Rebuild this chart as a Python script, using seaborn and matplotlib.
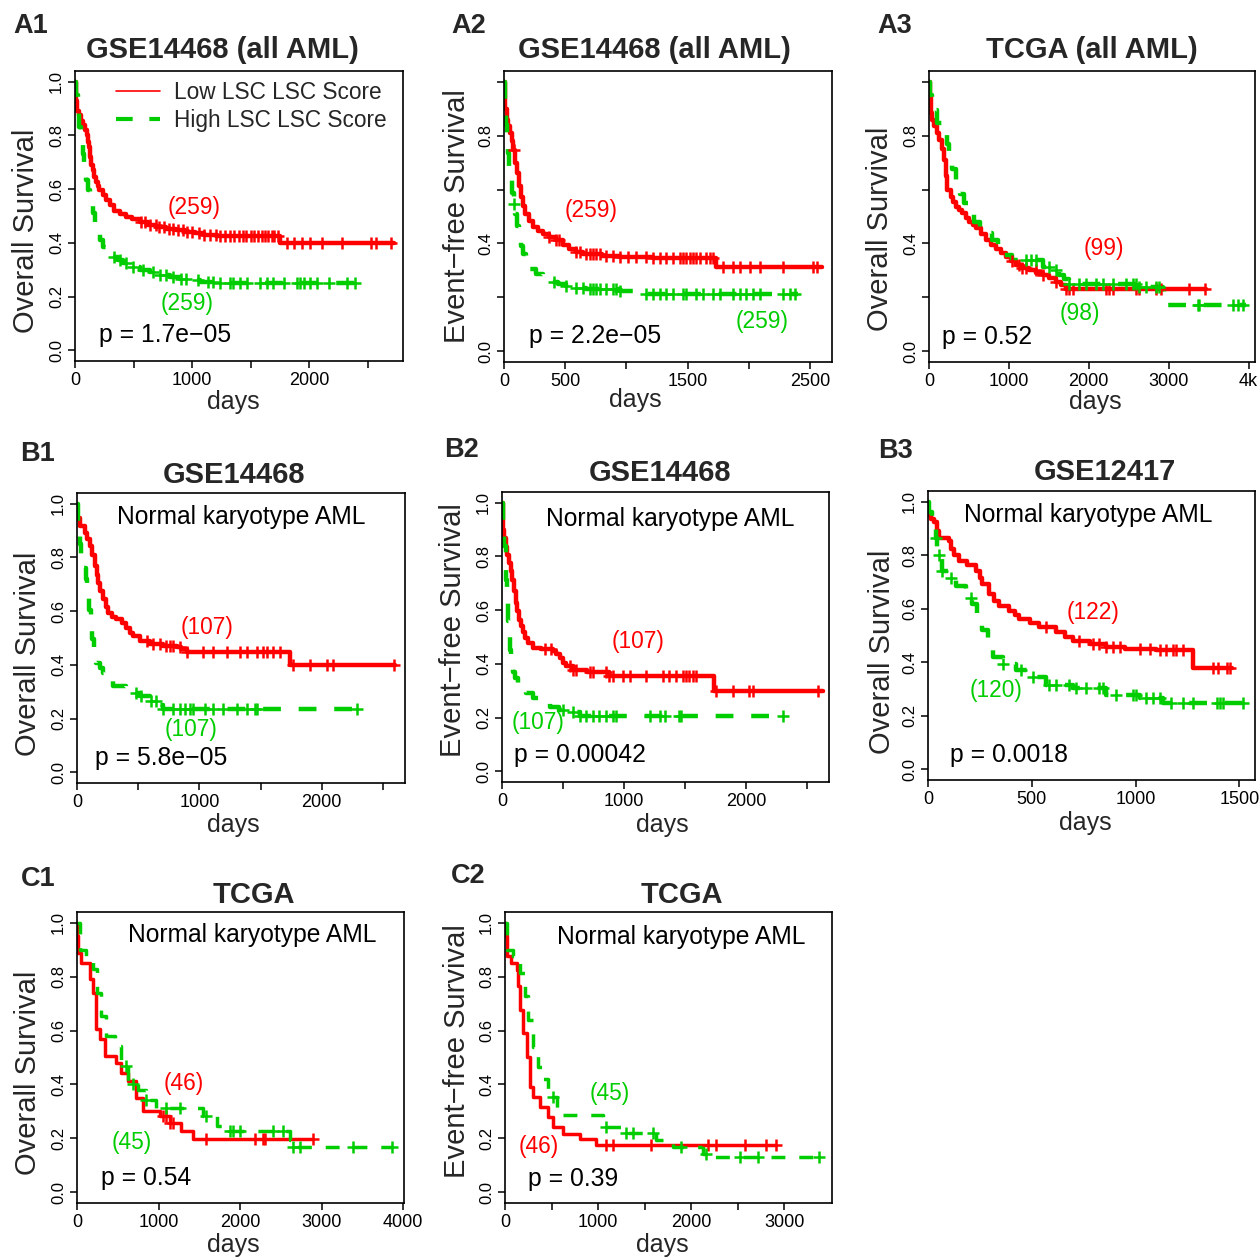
import numpy as np
import pandas as pd
import seaborn as sns
import matplotlib
matplotlib.use("Agg")
from matplotlib import pyplot as plt
from matplotlib.lines import Line2D

# ---- Kaplan-Meier curves: days / survival / censor days ----
a1_low_t = [0, 5, 14, 30, 51, 70, 89, 100, 110, 117, 130, 140, 151, 165, 180, 195, 209, 235, 266, 300,
            337, 385, 437, 490, 551, 620, 694, 780, 866, 940, 1023, 1100, 1209, 1751, 2723]
a1_low_s = [1.0, 0.93, 0.89, 0.875, 0.855, 0.84, 0.82, 0.80, 0.775, 0.756, 0.72, 0.69, 0.67, 0.645, 0.627,
            0.61, 0.596, 0.577, 0.559, 0.54, 0.52, 0.507, 0.497, 0.487, 0.478, 0.468, 0.46, 0.453, 0.447,
            0.441, 0.435, 0.43, 0.426, 0.40, 0.40]
a1_low_c = [560, 600, 640, 690, 720, 760, 800, 840, 880, 920, 960, 1000, 1060, 1100, 1150, 1200, 1240, 1280,
            1320, 1360, 1400, 1430, 1460, 1500, 1530, 1560, 1600, 1620, 1650, 1680, 1700, 1730, 1809, 1866,
            1937, 2009, 2109, 2280, 2523, 2566, 2694]
a1_high_t = [0, 8, 23, 37, 51, 65, 80, 95, 109, 130, 151, 172, 194, 215, 237, 280, 323, 365, 409, 480, 551,
             640, 723, 810, 894, 980, 1066, 1200, 1351, 2409]
a1_high_s = [1.0, 0.95, 0.89, 0.83, 0.78, 0.73, 0.68, 0.635, 0.596, 0.55, 0.51, 0.47, 0.435, 0.41, 0.386,
             0.365, 0.349, 0.335, 0.324, 0.31, 0.30, 0.29, 0.28, 0.272, 0.265, 0.26, 0.256, 0.252, 0.25, 0.25]
a1_high_c = [337, 380, 437, 494, 580, 666, 723, 780, 837, 909, 951, 1051, 1137, 1180, 1237, 1323, 1351, 1409,
             1466, 1580, 1637, 1694, 1780, 1894, 1923, 1951, 2009, 2066, 2166, 2323, 2394]

a2_low_t = [0, 5, 12, 22, 35, 49, 62, 76, 90, 104, 120, 139, 157, 175, 205, 235, 275, 317, 370, 426, 480,
            535, 590, 644, 800, 944, 1217, 1736, 2596]
a2_low_s = [1.0, 0.947, 0.90, 0.86, 0.835, 0.81, 0.78, 0.748, 0.70, 0.66, 0.615, 0.573, 0.54, 0.511, 0.485,
            0.461, 0.448, 0.436, 0.424, 0.411, 0.395, 0.38, 0.37, 0.361, 0.355, 0.351, 0.345, 0.311, 0.311]
a2_low_c = [85, 371, 426, 453, 590, 617, 671, 699, 726, 753, 781, 835, 890, 944, 1013, 1081, 1163, 1217, 1272,
            1326, 1381, 1436, 1463, 1490, 1517, 1545, 1572, 1599, 1654, 1681, 1709, 1790, 1872, 1927, 2009,
            2091, 2282, 2527, 2555]
a2_high_t = [0, 5, 11, 16, 22, 30, 38, 52, 66, 80, 93, 107, 120, 137, 153, 180, 207, 262, 320, 371, 440,
             508, 590, 671, 944, 1081, 2404]
a2_high_s = [1.0, 0.95, 0.897, 0.84, 0.785, 0.735, 0.685, 0.635, 0.586, 0.545, 0.511, 0.465, 0.424, 0.39,
             0.361, 0.33, 0.305, 0.287, 0.27, 0.258, 0.25, 0.243, 0.236, 0.23, 0.222, 0.212, 0.212]
a2_high_c = [85, 412, 508, 590, 644, 699, 726, 753, 781, 835, 890, 917, 944, 1163, 1217, 1272, 1326, 1381,
             1463, 1490, 1572, 1627, 1709, 1763, 1872, 1927, 1981, 2036, 2091, 2282, 2336, 2377]

a3_low_t = [0, 8, 21, 42, 63, 94, 125, 157, 188, 210, 230, 272, 300, 334, 375, 418, 460, 501, 545, 585, 650,
            710, 770, 836, 900, 961, 1020, 1087, 1170, 1254, 1340, 1421, 1500, 1588, 1650, 1713, 3468]
a3_low_s = [1.0, 0.947, 0.884, 0.86, 0.835, 0.81, 0.785, 0.75, 0.711, 0.65, 0.599, 0.574, 0.555, 0.537,
            0.525, 0.512, 0.495, 0.481, 0.468, 0.456, 0.435, 0.412, 0.395, 0.381, 0.365, 0.35, 0.335, 0.319,
            0.31, 0.301, 0.292, 0.282, 0.27, 0.257, 0.245, 0.232, 0.232]
a3_low_c = [1045, 1128, 1170, 1212, 1337, 1421, 1588, 1713, 1755, 1797, 2215, 2257, 2298, 2591, 2633, 2842,
            2904, 3259, 3448]
a3_high_t = [0, 15, 42, 104, 188, 220, 251, 290, 334, 385, 439, 500, 564, 640, 710, 794, 860, 919, 1045, 1421,
             1520, 1630, 1690, 1755, 2633, 2925, 2946, 3970]
a3_high_s = [1.0, 0.95, 0.897, 0.847, 0.81, 0.77, 0.723, 0.675, 0.624, 0.585, 0.549, 0.515, 0.481, 0.46,
             0.437, 0.412, 0.385, 0.357, 0.338, 0.313, 0.30, 0.282, 0.268, 0.251, 0.239, 0.232, 0.17, 0.17]
a3_high_c = [1212, 1275, 1337, 1504, 1588, 1755, 1880, 1964, 2089, 2173, 2298, 2466, 2549, 2591, 2633, 2716,
             2842, 2883, 3364, 3385, 3803, 3865, 3928]

b1_low_t = [0, 3, 22, 63, 85, 104, 125, 145, 160, 172, 190, 213, 235, 254, 290, 322, 365, 404, 430, 458, 513,
            595, 700, 813, 850, 895, 1741, 2600]
b1_low_s = [1.0, 0.947, 0.916, 0.891, 0.87, 0.842, 0.81, 0.767, 0.735, 0.705, 0.675, 0.644, 0.615, 0.594,
            0.58, 0.569, 0.555, 0.538, 0.52, 0.507, 0.489, 0.476, 0.472, 0.468, 0.458, 0.448, 0.398, 0.398]
b1_low_c = [568, 622, 677, 731, 759, 786, 840, 895, 1031, 1113, 1222, 1332, 1386, 1468, 1523, 1550, 1604,
            1659, 1768, 1905, 2041, 2095, 2587]
b1_high_t = [0, 11, 25, 35, 55, 71, 85, 98, 112, 126, 142, 158, 185, 213, 255, 295, 404, 460, 513, 595, 650,
             704, 2300]
b1_high_s = [1.0, 0.903, 0.85, 0.804, 0.76, 0.718, 0.66, 0.606, 0.55, 0.495, 0.45, 0.408, 0.39, 0.371,
             0.345, 0.322, 0.309, 0.297, 0.285, 0.266, 0.25, 0.235, 0.235]
b1_high_c = [486, 527, 608, 649, 704, 786, 840, 881, 922, 950, 1045, 1113, 1195, 1304, 1386, 1454, 1468, 2287]

b2_low_t = [0, 8, 18, 30, 44, 57, 70, 85, 98, 112, 125, 139, 155, 172, 192, 213, 254, 320, 417, 445, 472, 500,
            527, 581, 700, 881, 1741, 2628]
b2_low_s = [1.0, 0.899, 0.87, 0.837, 0.805, 0.775, 0.745, 0.714, 0.67, 0.627, 0.595, 0.565, 0.54, 0.519,
            0.497, 0.479, 0.46, 0.455, 0.448, 0.435, 0.42, 0.405, 0.393, 0.377, 0.37, 0.356, 0.30, 0.30]
b2_low_c = [349, 404, 554, 581, 608, 718, 745, 854, 881, 909, 990, 1045, 1181, 1318, 1372, 1427, 1482, 1509,
            1536, 1564, 1591, 1754, 1891, 2027, 2055, 2587]
b2_high_t = [0, 5, 15, 30, 41, 50, 57, 66, 76, 90, 104, 130, 158, 200, 254, 320, 390, 470, 554, 636, 2314]
b2_high_s = [1.0, 0.92, 0.84, 0.714, 0.627, 0.56, 0.504, 0.45, 0.405, 0.37, 0.346, 0.325, 0.306, 0.29,
             0.272, 0.255, 0.238, 0.23, 0.222, 0.205, 0.205]
b2_high_c = [499, 581, 636, 690, 745, 799, 854, 909, 936, 1209, 1291, 1332, 1454, 1468, 2300]

b3_low_t = [0, 2, 15, 29, 45, 53, 101, 113, 126, 150, 190, 230, 250, 262, 295, 320, 343, 391, 420, 440, 490,
            536, 617, 660, 697, 778, 858, 950, 1100, 1275, 1462]
b3_low_s = [1.0, 0.951, 0.935, 0.926, 0.89, 0.864, 0.852, 0.825, 0.80, 0.778, 0.765, 0.741, 0.715, 0.691,
            0.654, 0.63, 0.61, 0.593, 0.575, 0.56, 0.545, 0.53, 0.512, 0.495, 0.481, 0.469, 0.457, 0.45,
            0.444, 0.377, 0.377]
b3_low_c = [568, 729, 794, 826, 858, 890, 923, 1019, 1068, 1116, 1148, 1180, 1196, 1229, 1374, 1398, 1438, 1454]
b3_high_t = [0, 5, 21, 37, 45, 69, 101, 134, 182, 214, 238, 262, 287, 311, 359, 424, 488, 568, 697, 858, 1019,
             1132, 1519]
b3_high_s = [1.0, 0.963, 0.914, 0.864, 0.80, 0.741, 0.716, 0.685, 0.642, 0.617, 0.568, 0.519, 0.469, 0.42,
             0.395, 0.37, 0.346, 0.315, 0.302, 0.278, 0.265, 0.249, 0.249]
b3_high_c = [37, 53, 69, 110, 206, 359, 448, 504, 585, 617, 681, 713, 762, 826, 842, 907, 987, 1003, 1052,
             1084, 1116, 1172, 1229, 1277, 1390, 1406, 1422, 1519]

c1_low_t = [0, 5, 12, 53, 155, 196, 237, 278, 340, 483, 544, 626, 729, 810, 1015, 1138, 1281, 1424, 2898]
c1_low_s = [1.0, 0.95, 0.889, 0.851, 0.79, 0.74, 0.604, 0.567, 0.505, 0.48, 0.443, 0.412, 0.35, 0.30, 0.282,
            0.257, 0.226, 0.198, 0.198]
c1_low_c = [1056, 1097, 1138, 1179, 1588, 2182, 2284, 2305, 2898]
c1_high_t = [0, 33, 115, 196, 246, 299, 360, 463, 544, 626, 749, 851, 974, 1547, 1711, 1834, 2612, 2652, 3880]
c1_high_s = [1.0, 0.90, 0.876, 0.827, 0.74, 0.653, 0.579, 0.542, 0.468, 0.40, 0.381, 0.344, 0.313, 0.282,
             0.245, 0.226, 0.195, 0.168, 0.168]
c1_high_c = [606, 688, 851, 1097, 1261, 1588, 1875, 1916, 1998, 2407, 2530, 2652, 2734, 3389, 3860]

c2_low_t = [0, 11, 25, 61, 125, 143, 161, 196, 232, 268, 304, 375, 464, 518, 625, 804, 982, 2904]
c2_low_s = [1.0, 0.95, 0.876, 0.851, 0.826, 0.764, 0.677, 0.59, 0.503, 0.391, 0.354, 0.317, 0.28, 0.242,
            0.217, 0.199, 0.174, 0.174]
c2_low_c = [1089, 1161, 1571, 2179, 2268, 2571, 2804, 2904]
c2_high_t = [0, 25, 89, 161, 214, 250, 304, 357, 411, 464, 554, 1054, 1250, 1625, 1804, 2125, 2196, 3393]
c2_high_s = [1.0, 0.90, 0.876, 0.814, 0.727, 0.64, 0.54, 0.466, 0.422, 0.354, 0.286, 0.242, 0.22, 0.193,
             0.168, 0.143, 0.13, 0.13]
c2_high_c = [518, 1089, 1304, 1375, 1589, 1893, 2161, 2518, 2714, 3375]

# ---- panel text ----
panel_ids = ["A1", "A2", "A3", "B1", "B2", "B3", "C1", "C2"]
titles = ["GSE14468 (all AML)", "GSE14468 (all AML)", "TCGA (all AML)", "GSE14468", "GSE14468",
          "GSE12417", "TCGA", "TCGA"]
ylabels = ["Overall Survival", "Event\u2212free Survival", "Overall Survival", "Overall Survival",
           "Event\u2212free Survival", "Overall Survival", "Overall Survival", "Event\u2212free Survival"]
low_n = ["(259)", "(259)", "(99)", "(107)", "(107)", "(122)", "(46)", "(46)"]
high_n = ["(259)", "(259)", "(98)", "(107)", "(107)", "(120)", "(45)", "(45)"]
pvals = ["p = 1.7e\u221205", "p = 2.2e\u221205", "p = 0.52", "p = 5.8e\u221205", "p = 0.00042",
         "p = 0.0018", "p = 0.54", "p = 0.39"]
subtitle = [None, None, None, "Normal karyotype AML", "Normal karyotype AML", "Normal karyotype AML",
            "Normal karyotype AML", "Normal karyotype AML"]
legend_labels = ["Low LSC LSC Score", "High LSC LSC Score"]

RED = "#FF0000"
GREEN = "#00CD00"
W, H = 1259, 1258

panels = [
    dict(low=(a1_low_t, a1_low_s, a1_low_c), high=(a1_high_t, a1_high_s, a1_high_c),
         box=(75, 71, 403, 361), xmax=2800, xt=range(0, 2501, 500), xl={0: "0", 1000: "1000", 2000: "2000"},
         yl=None, lab=(31, 26), tit=(222, 50), xlab=(233, 402), ylab=(26, 231),
         lowpos=(1017, 0.53), highpos=(957, 0.174), ppos=(769, 0.056), sub=None, lw=3.2),
    dict(low=(a2_low_t, a2_low_s, a2_low_c), high=(a2_high_t, a2_high_s, a2_high_c),
         box=(504, 71, 832, 362), xmax=2680, xt=range(0, 2501, 500),
         xl={0: "0", 500: "500", 1500: "1500", 2500: "2500"}, yl=[0.0, 0.4, 0.8],
         lab=(469, 26), tit=(654, 50), xlab=(635, 400), ylab=(457, 216),
         lowpos=(712, 0.523), highpos=(2110, 0.112), ppos=(740, 0.056), sub=None, lw=3.2),
    dict(low=(a3_low_t, a3_low_s, a3_low_c), high=(a3_high_t, a3_high_s, a3_high_c),
         box=(929, 71, 1255, 362), xmax=4080, xt=range(0, 4001, 1000),
         xl={0: "0", 1000: "1000", 2000: "2000", 3000: "3000", 4000: "4k"}, yl=[0.0, 0.4, 0.8],
         lab=(895, 26), tit=(1092, 50), xlab=(1095, 402), ylab=(880, 229),
         lowpos=(2194, 0.381), highpos=(1889, 0.139), ppos=(731, 0.052), sub=None, lw=3.2),
    dict(low=(b1_low_t, b1_low_s, b1_low_c), high=(b1_high_t, b1_high_s, b1_high_c),
         box=(77, 493, 405, 783), xmax=2680, xt=range(0, 2501, 500), xl={0: "0", 1000: "1000", 2000: "2000"},
         yl=None, lab=(37, 454), tit=(234, 475), xlab=(233, 825), ylab=(28, 654),
         lowpos=(1064, 0.538), highpos=(930, 0.161), ppos=(690, 0.052), sub=(1340, 0.95), lw=3.2),
    dict(low=(b2_low_t, b2_low_s, b2_low_c), high=(b2_high_t, b2_high_s, b2_high_c),
         box=(502, 492, 829, 782), xmax=2680, xt=range(0, 2501, 500), xl={0: "0", 1000: "1000", 2000: "2000"},
         yl=None, lab=(462, 450), tit=(660, 473), xlab=(662, 825), ylab=(453, 630),
         lowpos=(1113, 0.485), highpos=(295, 0.183), ppos=(641, 0.059), sub=(1378, 0.938), lw=3.2),
    dict(low=(b3_low_t, b3_low_s, b3_low_c), high=(b3_high_t, b3_high_s, b3_high_c),
         box=(928, 491, 1255, 780), xmax=1575, xt=range(0, 1501, 500),
         xl={0: "0", 500: "500", 1000: "1000", 1500: "1500"}, yl=None,
         lab=(896, 451), tit=(1105, 472), xlab=(1085, 823), ylab=(882, 652),
         lowpos=(794, 0.586), highpos=(327, 0.294), ppos=(391, 0.052), sub=(770, 0.951), lw=3.2),
    dict(low=(c1_low_t, c1_low_s, c1_low_c), high=(c1_high_t, c1_high_s, c1_high_c),
         box=(77, 912, 404, 1203), xmax=4010, xt=range(0, 4001, 1000),
         xl={0: "0", 1000: "1000", 2000: "2000", 3000: "3000", 4000: "4000"}, yl=None,
         lab=(38, 879), tit=(254, 895), xlab=(233, 1245), ylab=(28, 1073),
         lowpos=(1310, 0.403), highpos=(667, 0.186), ppos=(851, 0.053), sub=(2153, 0.953), lw=2.5),
    dict(low=(c2_low_t, c2_low_s, c2_low_c), high=(c2_high_t, c2_high_s, c2_high_c),
         box=(505, 912, 832, 1203), xmax=3510, xt=range(0, 3001, 500),
         xl={0: "0", 1000: "1000", 2000: "2000", 3000: "3000"}, yl=None,
         lab=(468, 876), tit=(682, 895), xlab=(662, 1245), ylab=(457, 1051),
         lowpos=(357, 0.17), highpos=(1125, 0.366), ppos=(732, 0.05), sub=(1893, 0.948), lw=2.5),
]

sns.set_style("ticks")
plt.rcParams["font.family"] = ["Liberation Sans", "DejaVu Sans"]
plt.rcParams["axes.edgecolor"] = "black"
plt.rcParams["xtick.color"] = "black"
plt.rcParams["ytick.color"] = "black"

fig = plt.figure(figsize=(W / 100, H / 100), dpi=100)


def surv_at(times, surv, days):
    idx = np.searchsorted(times, days, side="right") - 1
    return np.asarray(surv)[idx]


def draw_curve(ax, curve, color, dashed, lw):
    t, s, c = curve
    df = pd.DataFrame({"days": t, "surv": s})
    ls = (0, (4, 4)) if dashed else "-"
    sns.lineplot(data=df, x="days", y="surv", ax=ax, color=color, lw=lw, linestyle=ls,
                 drawstyle="steps-post", estimator=None, sort=False, legend=False)
    cdf = pd.DataFrame({"days": c, "surv": surv_at(t, s, c)})
    sns.scatterplot(data=cdf, x="days", y="surv", ax=ax, color=color, marker="+", s=80,
                    linewidth=1.8, legend=False, zorder=3)


for i, p in enumerate(panels):
    l, t, r, b = p["box"]
    ax = fig.add_axes([l / W, 1 - b / H, (r - l) / W, (b - t) / H])
    draw_curve(ax, p["low"], RED, False, p["lw"])
    draw_curve(ax, p["high"], GREEN, True, p["lw"])

    ax.set_xlim(0, p["xmax"])
    ax.set_ylim(-0.04, 1.04)
    xt = list(p["xt"])
    ax.set_xticks(xt)
    ax.set_xticklabels([p["xl"].get(v, "") for v in xt], fontsize=13)
    yt = [0.0, 0.2, 0.4, 0.6, 0.8, 1.0]
    ylab_show = p["yl"] if p["yl"] is not None else yt
    ax.set_yticks(yt)
    ax.set_yticklabels([f"{v:.1f}" if any(abs(v - q) < 1e-9 for q in ylab_show) else "" for v in yt],
                       fontsize=12, rotation=90, va="center")
    ax.tick_params(length=5, width=1.1, direction="out", pad=3)
    for sp in ax.spines.values():
        sp.set_visible(True)
        sp.set_linewidth(1.2)
        sp.set_color("black")

    ax.set_xlabel("days", fontsize=18, va="center")
    ax.xaxis.set_label_coords((p["xlab"][0] - l) / (r - l), (b - p["xlab"][1]) / (b - t))
    ax.set_ylabel(ylabels[i], fontsize=21, va="center", ha="center", rotation_mode="default")
    ax.yaxis.set_label_coords((p["ylab"][0] - l) / (r - l), (b - p["ylab"][1]) / (b - t))

    ax.text(*p["lowpos"], low_n[i], color=RED, fontsize=16.4, ha="center", va="center")
    ax.text(*p["highpos"], high_n[i], color=GREEN, fontsize=16.4, ha="center", va="center")
    ax.text(*p["ppos"], pvals[i], color="black", fontsize=17.8, ha="center", va="center")
    if subtitle[i]:
        ax.text(*p["sub"], subtitle[i], color="black", fontsize=17.7, ha="center", va="center")

    fig.text(p["lab"][0] / W, 1 - p["lab"][1] / H, panel_ids[i], fontsize=19.5, fontweight="bold",
             ha="center", va="center")
    fig.text(p["tit"][0] / W, 1 - p["tit"][1] / H, titles[i], fontsize=21, fontweight="bold",
             ha="center", va="center")

    if i == 0:
        handles = [Line2D([], [], color=RED, lw=1.2),
                   Line2D([], [], color=GREEN, lw=3.0, linestyle=(0, (4, 4)))]
        ax.legend(handles, legend_labels, loc="upper left", bbox_to_anchor=(0.117, 0.972), frameon=False,
                  fontsize=16.3, handlelength=1.98, handletextpad=0.6, labelspacing=0.22,
                  borderpad=0.1, borderaxespad=0)

fig.savefig("out.png", dpi=100)
